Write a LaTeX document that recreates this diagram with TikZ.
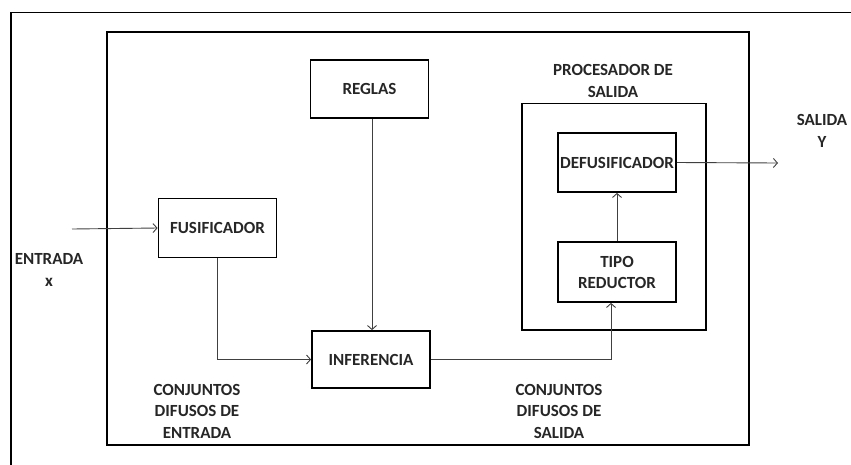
\documentclass[tikz,border=0pt]{standalone}
\usepackage{fontspec}
\setmainfont{Carlito}
\usetikzlibrary{arrows.meta}
\begin{document}
\begin{tikzpicture}[x=1pt,y=-1pt,
  blk/.style={draw=black,line width=1.8pt,rectangle,minimum width=118pt,minimum height=59pt,inner sep=0pt,align=center,font=\bfseries\fontsize{17}{21}\selectfont,text=black!85},
  lbl/.style={align=center,font=\bfseries\fontsize{17}{21.5}\selectfont,text=black!85,inner sep=0pt},
  frame/.style={draw=black,line width=1.8pt},
  arr/.style={draw=black!75,line width=0.9pt,-{Straight Barb[length=4pt,width=9pt,line width=0.9pt]}},
  conn/.style={draw=black!75,line width=0.9pt}]
\useasboundingbox (0,0) rectangle (851,464);
% outer frame (cropped)
\draw[frame] (11,470) -- (11,12.5) -- (860,12.5);
% main box
\draw[frame] (107,32) rectangle (749,445);
% processor box
\draw[frame] (522,103.5) rectangle (706,330);
% blocks
\node[blk] (fus) at (217.5,228) {FUSIFICADOR};
\node[blk,minimum height=58pt] (reg) at (369.5,89) {REGLAS};
\node[blk,minimum height=57pt] (inf) at (371,359.5) {INFERENCIA};
\node[blk] (def) at (617,162.5) {DEFUSIFICADOR};
\node[blk,minimum height=60pt] (tip) at (617,272) {TIPO\\REDUCTOR};
% labels
\node[lbl] (ent) at (49,270) {ENTRADA\\x};
\node[lbl] (sal) at (822,131) {SALIDA\\Y};
\node[lbl] (proc) at (613,81) {PROCESADOR DE\\SALIDA};
\node[lbl] (cde) at (197,411) {CONJUNTOS\\DIFUSOS DE\\ENTRADA};
\node[lbl] (cds) at (559,411) {CONJUNTOS\\DIFUSOS DE\\SALIDA};
% connectors
\coordinate (xin) at (72,229);
\coordinate (yout) at (778,163);
\draw[arr] (xin) -- (fus.west);
\draw[arr] (fus.south) |- (inf.west);
\draw[arr] ([xshift=2.5pt]reg.south) -- ([xshift=2.5pt]reg.south |- inf.north);
\draw[arr] (inf.east) -| ([xshift=-6pt]tip.south);
\draw[arr] (tip.north) -- (def.south);
\draw[arr] (def.east) -- (yout);
\end{tikzpicture}
\end{document}
